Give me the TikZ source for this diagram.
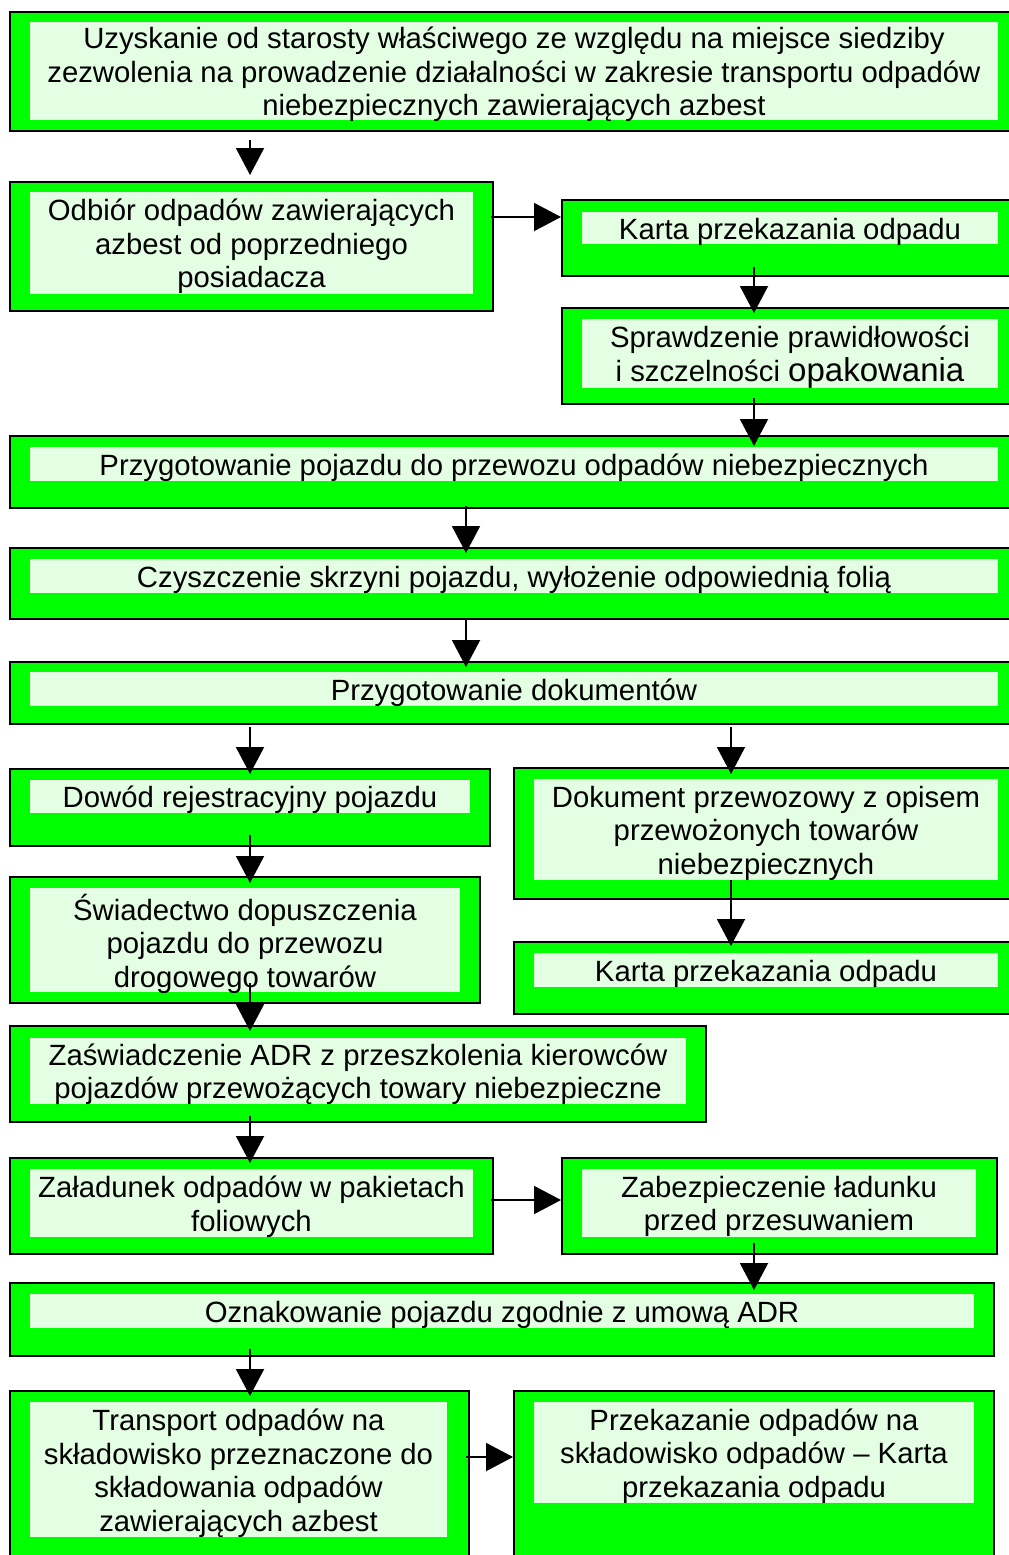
\documentclass[tikz,border=0pt]{standalone}
\usepackage{fontspec}
\setmainfont{Liberation Sans}
\usetikzlibrary{arrows.meta,calc}

\definecolor{boxgreen}{RGB}{0,255,0}
\definecolor{palegreen}{RGB}{227,254,227}

\tikzset{
  outerbox/.style={draw=black, line width=2.5pt, fill=boxgreen, rectangle,
    anchor=north west, inner sep=0pt, outer sep=0pt},
  innerbox/.style={fill=palegreen, rectangle, anchor=north west, inner sep=0pt,
    outer sep=0pt},
  paneltext/.style={align=center, inner sep=0pt, font=\fontsize{29.3}{33.5}\selectfont},
  arr/.style={line width=2pt, -{Triangle[length=27pt,width=28pt]}}
}

% pale panel with its text: name, x, y, width, height, text
\newcommand{\panel}[6]{%
  \node[innerbox, minimum width=#4pt, minimum height=#5pt] (#1) at (#2,#3) {};
  \node[paneltext] (#1txt) at ([yshift=-3.5pt]#1.center) {#6};}

\begin{document}
\begin{tikzpicture}[x=1pt, y=-1pt]
  % Page frame
  \useasboundingbox (0,0) rectangle (1009,1555);
  \fill[white] (0,0) rectangle (1009,1555);
  \clip (0,0) rectangle (1009,1555);

  % Arrow columns and rows
  \coordinate (cL) at (250,0);
  \coordinate (cM) at (466,0);
  \coordinate (cD) at (731,0);
  \coordinate (cR) at (754,0);
  \coordinate (rA) at (0,217);
  \coordinate (rB) at (0,1200);
  \coordinate (rC) at (0,1457);

  % Outer green boxes
  \node[outerbox, minimum width=1002pt, minimum height=119pt] (b1) at (10,12) {};
  \node[outerbox, minimum width=483pt, minimum height=129pt] (b2) at (10,182) {};
  \node[outerbox, minimum width=450pt, minimum height=76pt] (b3) at (562,200) {};
  \node[outerbox, minimum width=450pt, minimum height=96pt] (b4) at (562,308) {};
  \node[outerbox, minimum width=1002pt, minimum height=72pt] (b5) at (10,436) {};
  \node[outerbox, minimum width=1002pt, minimum height=71pt] (b6) at (10,548) {};
  \node[outerbox, minimum width=1002pt, minimum height=62pt] (b7) at (10,662) {};
  \node[outerbox, minimum width=480pt, minimum height=77pt] (b8) at (10,769) {};
  \node[outerbox, minimum width=470pt, minimum height=126pt] (b9) at (10,877) {};
  \node[outerbox, minimum width=498pt, minimum height=131pt] (b10) at (514,768) {};
  \node[outerbox, minimum width=498pt, minimum height=72pt] (b11) at (514,942) {};
  \node[outerbox, minimum width=696pt, minimum height=96pt] (b12) at (10,1026) {};
  \node[outerbox, minimum width=483pt, minimum height=96pt] (b13) at (10,1158) {};
  \node[outerbox, minimum width=435pt, minimum height=96pt] (b14) at (562,1158) {};
  \node[outerbox, minimum width=984pt, minimum height=73pt] (b15) at (10,1283) {};
  \node[outerbox, minimum width=459pt, minimum height=175pt] (b16) at (10,1391) {};
  \node[outerbox, minimum width=480pt, minimum height=175pt] (b17) at (514,1391) {};

  % Text panels
  \panel{t1}{30}{22}{968}{98}
    {Uzyskanie od starosty właściwego ze względu na miejsce siedziby\\zezwolenia na prowadzenie działalności w zakresie transportu odpadów\\niebezpiecznych zawierających azbest}
  \panel{t2}{30}{192}{443}{102}
    {Odbiór odpadów zawierających\\azbest od poprzedniego\\posiadacza}
  \panel{t3}{582}{212}{416}{32}
    {Karta przekazania odpadu}
  \panel{t4}{582}{319}{416}{69}
    {Sprawdzenie prawidłowości\\i szczelności {\fontsize{33}{33.5}\selectfont opakowania}}
  \panel{t5}{30}{447}{968}{34}
    {Przygotowanie pojazdu do przewozu odpadów niebezpiecznych}
  \panel{t6}{30}{559}{968}{34}
    {Czyszczenie skrzyni pojazdu, wyłożenie odpowiednią folią}
  \panel{t7}{30}{672}{968}{34}
    {Przygotowanie dokumentów}
  \panel{t8}{30}{780}{440}{33}
    {Dowód rejestracyjny pojazdu}
  \panel{t9}{30}{888}{430}{104}
    {Świadectwo dopuszczenia\\pojazdu do przewozu\\drogowego towarów}
  \panel{t10}{534}{779}{464}{101}
    {Dokument przewozowy z opisem\\przewożonych towarów\\niebezpiecznych}
  \panel{t11}{534}{953}{464}{34}
    {Karta przekazania odpadu}
  \panel{t12}{30}{1038}{656}{66}
    {Zaświadczenie ADR z przeszkolenia kierowców\\pojazdów przewożących towary niebezpieczne}
  \panel{t13}{30}{1169}{443}{68}
    {Załadunek odpadów w pakietach\\foliowych}
  \panel{t14}{582}{1169}{394}{68}
    {Zabezpieczenie ładunku\\przed przesuwaniem}
  \panel{t15}{30}{1294}{944}{34}
    {Oznakowanie pojazdu zgodnie z umową ADR}
  \panel{t16}{30}{1402}{417}{135}
    {Transport odpadów na\\składowisko przeznaczone do\\składowania odpadów\\zawierających azbest}
  \panel{t17}{534}{1402}{440}{101}
    {Przekazanie odpadów na\\składowisko odpadów – Karta\\przekazania odpadu}

  % Arrows
  \draw[arr] ($(b1.south -| cL)+(0,9)$) -- ($(b2.north -| cL)+(0,-7)$);
  \draw[arr] ($(b2.east |- rA)+(-2,0)$) -- ($(b3.west |- rA)+(-1,0)$);
  \draw[arr] ($(b3.south -| cR)+(0,-9)$) -- ($(b4.north -| cR)+(0,5)$);
  \draw[arr] ($(b4.south -| cR)+(0,-6)$) -- ($(b5.north -| cR)+(0,10)$);
  \draw[arr] ($(b5.south -| cM)+(0,-2)$) -- ($(b6.north -| cM)+(0,5)$);
  \draw[arr] ($(b6.south -| cM)+(0,1)$) -- ($(b7.north -| cM)+(0,5)$);
  \draw[arr] ($(b7.south -| cL)+(0,3)$) -- ($(b8.north -| cL)+(0,5)$);
  \draw[arr] ($(b7.south -| cD)+(0,3)$) -- ($(b10.north -| cD)+(0,6)$);
  \draw[arr] ($(b8.south -| cL)+(0,-11)$) -- ($(b9.north -| cL)+(0,6)$);
  \draw[arr] ($(b10.south -| cD)+(0,-19)$) -- ($(b11.north -| cD)+(0,4)$);
  \draw[arr] ($(b9.south -| cL)+(0,-20)$) -- ($(b12.north -| cL)+(0,5)$);
  \draw[arr] ($(b12.south -| cL)+(0,-6)$) -- ($(b13.north -| cL)+(0,5)$);
  \draw[arr] ($(b13.east |- rB)+(-2,0)$) -- ($(b14.west |- rB)+(-1,0)$);
  \draw[arr] ($(b14.south -| cR)+(0,-11)$) -- ($(b15.north -| cR)+(0,7)$);
  \draw[arr] ($(b15.south -| cL)+(0,-7)$) -- ($(b16.north -| cL)+(0,5)$);
  \draw[arr] ($(b16.east |- rC)+(-3,0)$) -- ($(b17.west |- rC)+(-1,0)$);
\end{tikzpicture}
\end{document}
